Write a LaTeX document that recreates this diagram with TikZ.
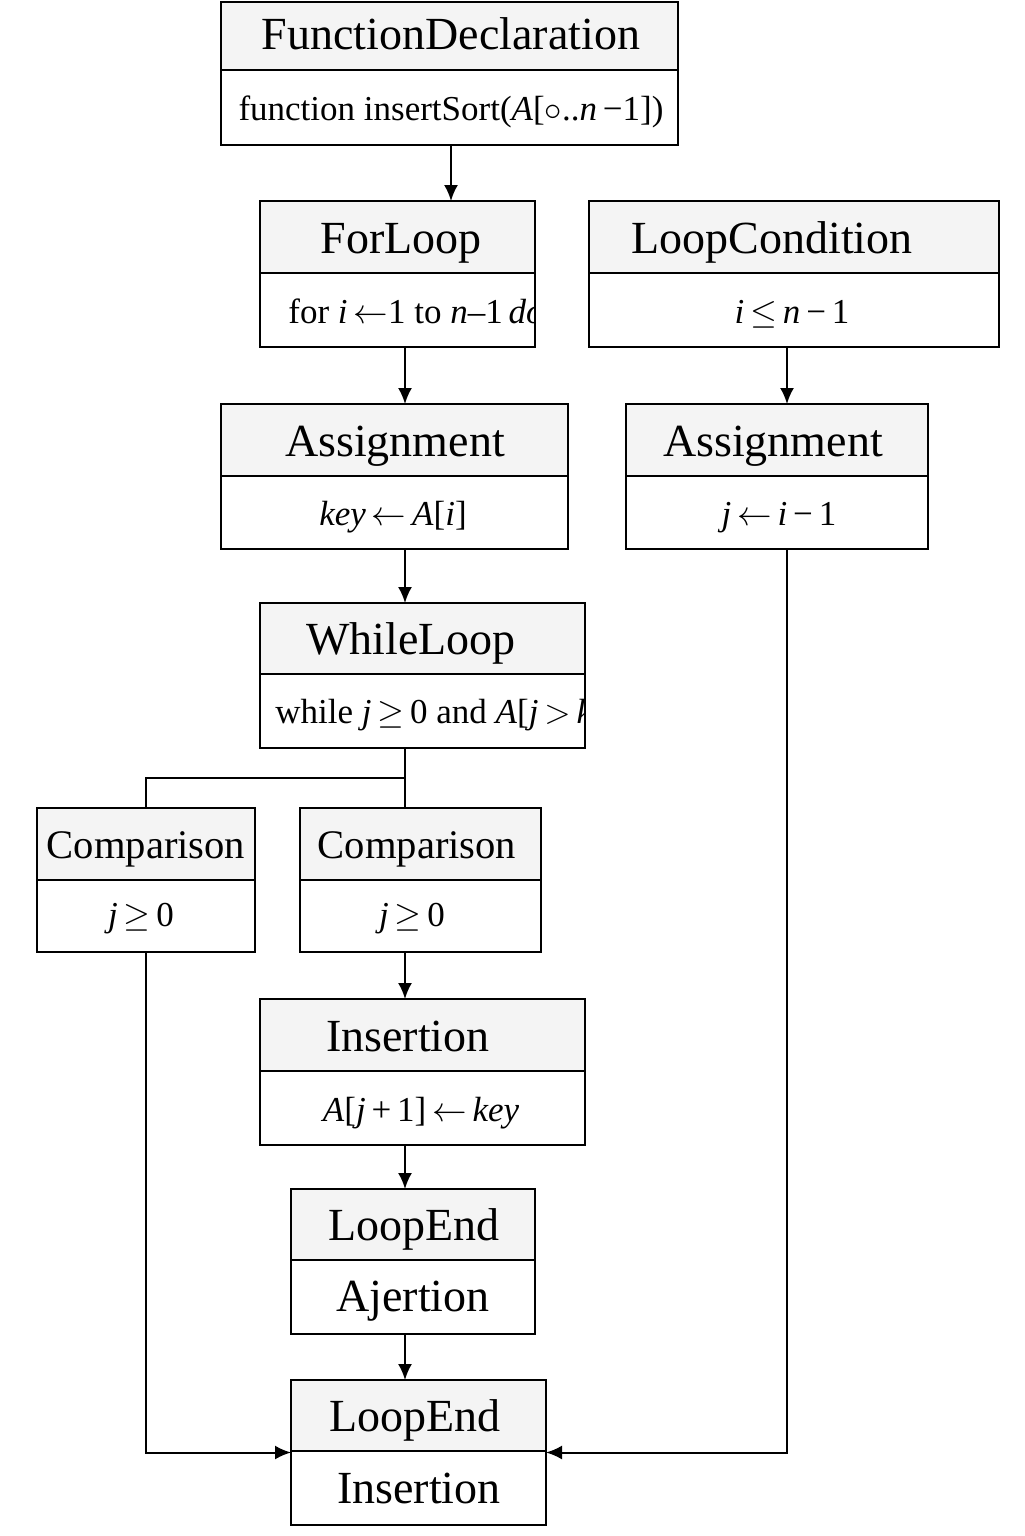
\documentclass[tikz,border=0pt]{standalone}
\usepackage{fontspec}
\setmainfont{Liberation Serif}
\usetikzlibrary{arrows.meta}
\definecolor{hdrgray}{HTML}{F4F4F4}
\tikzset{
  frame/.style={draw=black, line width=1.2pt, inner sep=0pt, outer sep=0pt, anchor=north west},
  divline/.style={line width=1.2pt},
  ttl/.style={anchor=base, inner sep=0pt, font=\fontsize{23}{27}\selectfont},
  ttls/.style={anchor=base, inner sep=0pt, font=\fontsize{20.3}{24}\selectfont},
  bdy/.style={anchor=base, inner sep=0pt, font=\fontsize{17.5}{21}\selectfont},
  bdyw/.style={bdy, anchor=base west},
  conn/.style={line width=1pt},
  arr/.style={conn, -{Latex[length=8pt,width=7pt]}},
}
\newcommand\umlbox[6]{%
  \fill[hdrgray] (#2,#3) rectangle (#4,#6);
  \draw[divline] (#2,#6) -- (#4,#6);
  \node[frame, minimum width={(#4-#2)*0.5pt}, minimum height={(#5-#3)*0.5pt}] (#1) at (#2,#3) {};
}
\begin{document}
\begin{tikzpicture}[x=0.5pt, y=-0.5pt]
\useasboundingbox (0,0) rectangle (1024,1536);
\fill[white] (0,0) rectangle (1024,1536);

% boxes
\umlbox{fd}{221}{2}{678}{145}{70}
\umlbox{fl}{260}{201}{535}{347}{273}
\umlbox{lc}{589}{201}{999}{347}{273}
\umlbox{asa}{221}{404}{568}{549}{476}
\umlbox{asb}{626}{404}{928}{549}{476}
\umlbox{wl}{260}{603}{585}{748}{674}
\umlbox{cpa}{37}{808}{255}{952}{880}
\umlbox{cpb}{300}{808}{541}{952}{880}
\umlbox{ins}{260}{999}{585}{1145}{1071}
\umlbox{lea}{291}{1189}{535}{1334}{1260}
\umlbox{leb}{291}{1380}{546}{1525}{1451}

% titles
\node[ttl] (fdt) at (451,50) {FunctionDeclaration};
\node[ttl] (flt) at (401,253) {ForLoop};
\node[ttl] (lct) at (772,253) {LoopCondition};
\node[ttl] (asat) at (395,456) {Assignment};
\node[ttl] (asbt) at (773,456) {Assignment};
\node[ttl] (wlt) at (411,654) {WhileLoop};
\node[ttls] (cpat) at (146,858) {Comparison};
\node[ttls] (cpbt) at (417,858) {Comparison};
\node[ttl] (inst) at (408,1051) {Insertion};
\node[ttl] (leat) at (414,1240) {LoopEnd};
\node[ttl] (lebt) at (415,1431) {LoopEnd};

% bodies
\node[bdy] (fdb) at (451,120) {function insertSort(\textit{A}[$\circ$..\textit{n}\,−1])};
\begin{scope}
  \clip (260,273) rectangle (535,347);
  \node[bdyw] (flb) at (288,323) {for \textit{i}\,$\leftarrow$1 to \textit{n}–1\,\textit{do}};
\end{scope}
\node[bdy] (lcb) at (792,323) {\textit{i}\,$\leq$\,\textit{n}\,−\,1};
\node[bdy] (asab) at (393,525) {\textit{key}\,$\leftarrow$\,\textit{A}[\textit{i}]};
\node[bdy] (asbb) at (779,525) {\textit{j}\,$\leftarrow$\,\textit{i}\,−\,1};
\begin{scope}
  \clip (260,674) rectangle (585,748);
  \node[bdyw] (wlb) at (275,723) {while \textit{j}\,$\geq$\,0 and \textit{A}[\textit{j}\,$>$\,\textit{key}};
\end{scope}
\node[bdy] (cpab) at (141,926) {\textit{j}\,$\geq$\,0};
\node[bdy] (cpbb) at (412,926) {\textit{j}\,$\geq$\,0};
\node[bdy] (insb) at (421,1121) {\textit{A}[\textit{j}\,+\,1]\,$\leftarrow$\,\textit{key}};
\node[ttl] (leab) at (413,1311) {Ajertion};
\node[ttl] (lebb) at (419,1503) {Insertion};

% connector helpers
\coordinate (xa) at (451,0);
\coordinate (xb) at (405,0);
\coordinate (xc) at (787,0);
\coordinate (jn) at (405,778);

% connectors
\draw[arr] (fd.south -| xa) -- (fl.north -| xa);
\draw[arr] (fl.south -| xb) -- (asa.north -| xb);
\draw[arr] (lc.south -| xc) -- (asb.north -| xc);
\draw[arr] (asa.south -| xb) -- (wl.north -| xb);
\draw[conn] (wl.south -| xb) -- (cpb.north -| xb);
\draw[conn] (jn) -| (cpa.north);
\draw[arr] (cpb.south -| xb) -- (ins.north -| xb);
\draw[arr] (ins.south -| xb) -- (lea.north -| xb);
\draw[arr] (lea.south -| xb) -- (leb.north -| xb);
\draw[arr] (cpa.south) |- (leb.west);
\draw[arr] (asb.south -| xc) |- (leb.east);
\end{tikzpicture}
\end{document}
